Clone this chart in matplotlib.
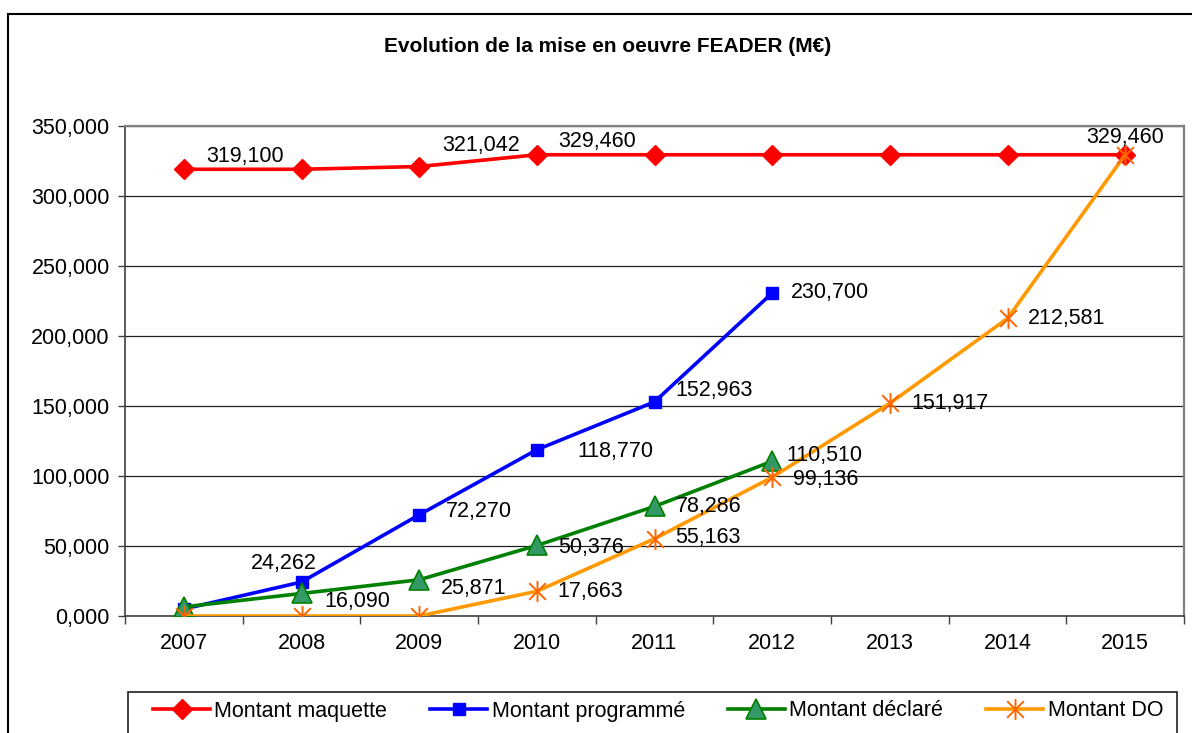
import numpy as np
import matplotlib
matplotlib.use("Agg")
from matplotlib import pyplot as plt
from matplotlib.path import Path
from matplotlib.patches import Rectangle

plt.rcParams['font.family'] = ['Liberation Sans', 'DejaVu Sans']

# data (M€)
years = ["2007", "2008", "2009", "2010", "2011", "2012", "2013", "2014", "2015"]
maquette = [319.100, 319.100, 321.042, 329.460, 329.460, 329.460, 329.460, 329.460, 329.460]
programme = [5.0, 24.262, 72.270, 118.770, 152.963, 230.700]
declare = [6.5, 16.090, 25.871, 50.376, 78.286, 110.510]
montant_do = [0.0, 0.0, 0.0, 17.663, 55.163, 99.136, 151.917, 212.581, 329.460]
yticks = [0, 50, 100, 150, 200, 250, 300, 350]

# which points get a value label, with offset in pixels and alignment
lab_maquette = {0: (22, 13, 'left'), 2: (23, 21, 'left'), 3: (21, 13, 'left'), 8: (0, 17, 'center')}
lab_programme = {1: (-18, 19, 'center'), 2: (27, 3, 'left'), 3: (41, -2, 'left'),
                 4: (21, 11, 'left'), 5: (19, 1, 'left')}
lab_declare = {1: (23, -8, 'left'), 2: (22, -9, 'left'), 3: (21, -2, 'left'),
               4: (21, 0, 'left'), 5: (14, 6, 'left')}
lab_do = {3: (21, 0, 'left'), 4: (21, 1, 'left'), 5: (21, -2, 'left'),
          6: (22, 0, 'left'), 7: (20, 0, 'left')}

FS = 15.5


def fr(v):
    return f"{v:,.3f}".replace(",", " ").replace(".", ",").replace(" ", ".")


# excel-like asterisk marker
star = Path([(-1, -1), (1, 1), (-1, 1), (1, -1), (0, -1.25), (0, 1.25)],
            [Path.MOVETO, Path.LINETO, Path.MOVETO, Path.LINETO, Path.MOVETO, Path.LINETO])

fig = plt.figure(figsize=(11.92, 7.33), dpi=100)
ax = fig.add_axes([125/1192, 1-616/733, (1184-125)/1192, (616-126)/733])

x = np.arange(len(years))
ax.plot(x, maquette, color='#FF0000', lw=2.6, marker='D', ms=10, mec='#FF0000',
        mfc='#FF0000', label='Montant maquette', zorder=3)
ax.plot(x[:len(programme)], programme, color='#0000FF', lw=2.6, marker='s', ms=8,
        mec='#0000FF', mfc='#0000FF', label='Montant programmé', zorder=4)
ax.plot(x[:len(declare)], declare, color='#008000', lw=2.6, marker='^', ms=14,
        mec='#008000', mfc='#339966', mew=1.2, label='Montant déclaré', zorder=5)
ax.plot(x, montant_do, color='#FF9900', lw=2.6, marker=star, ms=15,
        mec='#FF6600', mew=1.4, label='Montant DO', zorder=6)

for vals, labs in [(maquette, lab_maquette), (programme, lab_programme),
                   (declare, lab_declare), (montant_do, lab_do)]:
    for i, (dx, dy, ha) in labs.items():
        ax.annotate(fr(vals[i]), (x[i], vals[i]), xytext=(dx, dy),
                    textcoords='offset pixels', ha=ha, va='center',
                    fontsize=FS, color='black', zorder=10)

ax.set_xlim(-0.5, len(years) - 0.5)
ax.set_ylim(0, 350)
ax.set_yticks(yticks)
ax.set_yticklabels([fr(v) for v in yticks])
ax.set_xticks(x)
ax.set_xticklabels(years)
ax.set_xticks(np.arange(-0.5, len(years)), minor=True)
ax.tick_params(axis='x', which='major', length=0, pad=12, labelsize=FS)
ax.tick_params(axis='x', which='minor', length=6, width=1, direction='out', color='#404040')
ax.tick_params(axis='y', length=5, width=1, direction='out', pad=6, labelsize=FS, color='#404040')
ax.yaxis.grid(True, color='#202020', lw=0.9)
ax.set_axisbelow(True)
for s in ['top', 'right']:
    ax.spines[s].set_color('#808080')
    ax.spines[s].set_linewidth(1.6)
for s in ['left', 'bottom']:
    ax.spines[s].set_color('#404040')
    ax.spines[s].set_linewidth(1.2)

fig.text(608/1192, 1-47/733, "Evolution de la mise en oeuvre FEADER (M€)",
         ha='center', va='center', fontsize=15, fontweight='bold')

# outer chart frame and legend frame
fig.patches.append(Rectangle((8/1192, -0.1), 1.2, 1.1 - 14/733, transform=fig.transFigure,
                             fill=False, ec='black', lw=1.5, clip_on=False))
fig.patches.append(Rectangle((128/1192, -0.1), (1177-128)/1192, 0.1 + 1 - 692/733,
                             transform=fig.transFigure, fill=False, ec='#202020', lw=1.2,
                             clip_on=False))

handles, labels = ax.get_legend_handles_labels()
fig.legend(handles, labels, loc='center left', bbox_to_anchor=(153/1192, 1-711/733),
           ncol=4, frameon=False, fontsize=FS, handlelength=2.65, handletextpad=0.2,
           columnspacing=2.0, borderpad=0, borderaxespad=0)

fig.savefig("out.png", dpi=100)
